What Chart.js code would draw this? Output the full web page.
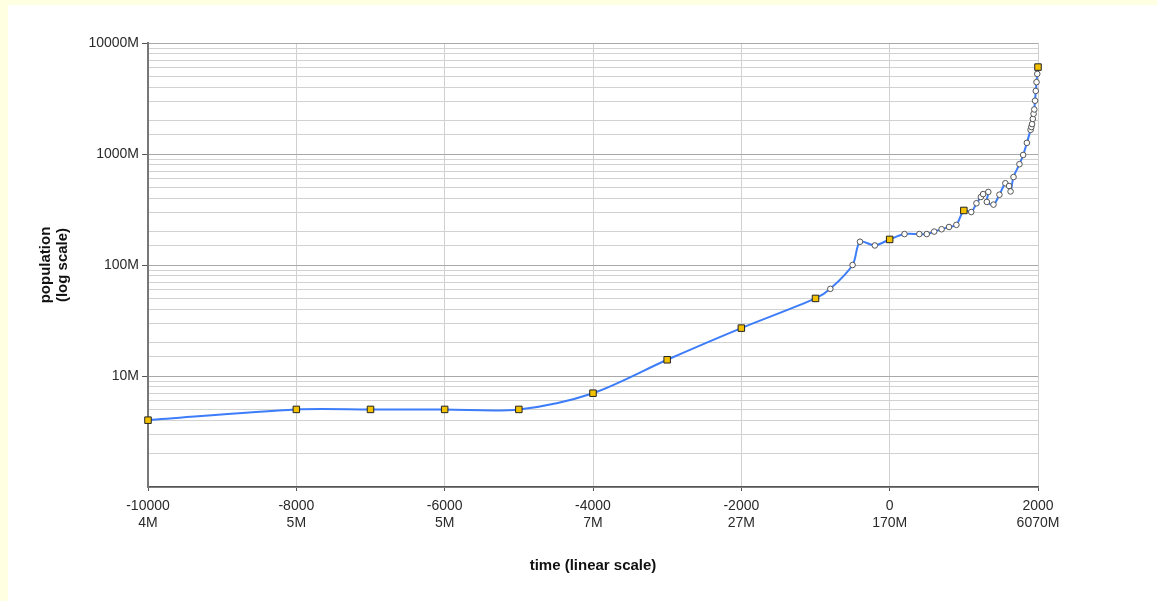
<!DOCTYPE html>
<html><head><meta charset="utf-8">
<script src="https://cdn.jsdelivr.net/npm/chart.js@4/dist/chart.umd.min.js"></script>
<style>
html,body{margin:0;padding:0;background:#FFFFE1;width:1157px;height:601px;overflow:hidden}
#panel{position:absolute;left:8px;top:5px;width:1149px;height:596px;background:#fff}
canvas{display:block}
</style></head><body>
<div id="panel"><canvas id="c" width="1149" height="596"></canvas></div>
<script>
// year (negative = BC) and world population in millions
const years = [-10000,-8000,-7000,-6000,-5000,-4000,-3000,-2000,-1000,-800,-500,-400,-200,
  0,200,400,500,600,700,800,900,1000,1100,1170,1230,1260,1330,1310,1400,1480,1560,1610,1630,1670,1750,
  1800,1850,1900,1910,1920,1930,1940,1950,1960,1970,1980,1990,2000];
const populations = [4,5,5,5,5,7,14,27,50,61,100,162,150,
  170,190,190,190,200,210,220,230,310,300,360,410,435,455,370,350,430,545,515,460,620,810,
  980,1260,1650,1750,1860,2070,2300,2520,3020,3700,4440,5270,6070];
// years drawn with square (yellow) markers
const squareYears = [-10000,-8000,-7000,-6000,-5000,-4000,-3000,-2000,-1000,0,1000,2000];
// second line of x tick labels
const xTickYears = [-10000,-8000,-6000,-4000,-2000,0,2000];
const xTickPopLabels = ['4M','5M','5M','7M','27M','170M','6070M'];
const yTickValues = [10,100,1000,10000];

Chart.defaults.font.family = "'Liberation Sans', Arial, sans-serif";
const isSq = c => c.raw && squareYears.includes(c.raw.x);
const isMajor = v => Math.abs(Math.log10(v) - Math.round(Math.log10(v))) < 1e-9;

new Chart(document.getElementById('c'), {
  type: 'line',
  data: {
    datasets: [{
      data: years.map((x, i) => ({x: x, y: populations[i]})),
      borderColor: '#3d7dfa',
      borderWidth: 2,
      tension: 0.3,
      clip: false,
      pointStyle: c => isSq(c) ? 'rect' : 'circle',
      pointRadius: c => isSq(c) ? 4.6 : 2.8,
      pointBackgroundColor: c => isSq(c) ? '#f2c200' : '#ffffff',
      pointBorderColor: c => isSq(c) ? '#222222' : '#555555',
      pointBorderWidth: 1
    }]
  },
  options: {
    responsive: false,
    animation: false,
    devicePixelRatio: 1,
    layout: {padding: {left: 0, right: 119, top: 38, bottom: 0}},
    plugins: {legend: {display: false}, tooltip: {enabled: false}},
    scales: {
      x: {
        type: 'linear', min: -10000, max: 2000,
        ticks: {
          stepSize: 2000, autoSkip: false, maxRotation: 0, padding: 7,
          color: '#2a2a2a', font: {size: 14, lineHeight: 1.2},
          callback: v => { const i = xTickYears.indexOf(v); return i < 0 ? '' : [String(v), xTickPopLabels[i]]; }
        },
        grid: {color: '#d0d0d0', tickLength: 4, tickColor: '#555'},
        border: {color: '#555', width: 1.5},
        title: {display: true, text: 'time (linear scale)', color: '#111',
                font: {size: 15, weight: 'bold', lineHeight: 1.2}, padding: {top: 4, bottom: 26}},
        afterFit: s => { s.height = 114; }
      },
      y: {
        type: 'logarithmic', min: 1, max: 10000,
        ticks: {
          autoSkip: false, padding: 3, color: '#2a2a2a', font: {size: 14},
          callback: v => yTickValues.includes(v) ? v + 'M' : ''
        },
        grid: {
          color: c => isMajor(c.tick.value) ? '#a8a8a8' : '#d2d2d2',
          tickLength: 6,
          tickColor: c => (yTickValues.includes(c.tick.value)) ? '#555' : 'rgba(0,0,0,0)'
        },
        border: {color: '#777', width: 2},
        title: {display: true, text: ['population', '(log scale)'], color: '#111',
                font: {size: 15, weight: 'bold', lineHeight: 1.1}, padding: {top: 30, bottom: 0}},
        afterFit: s => { s.width = 140; }
      }
    }
  }
});
</script>
</body></html>
